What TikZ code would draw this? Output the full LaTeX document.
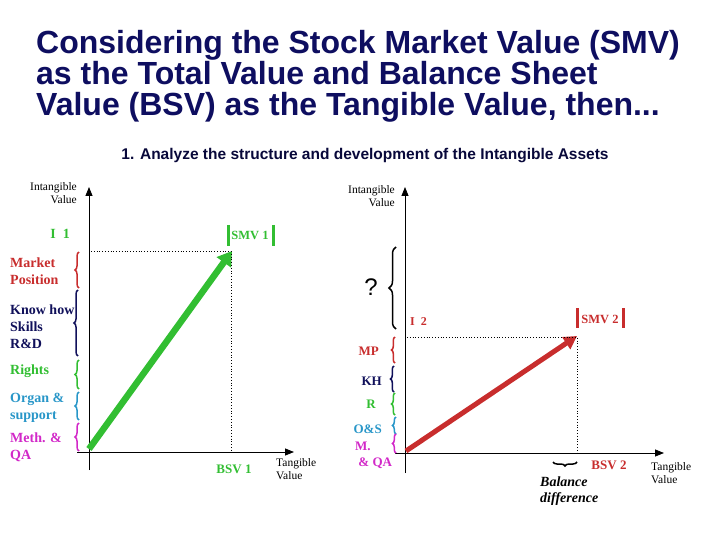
\documentclass[tikz,border=0pt]{standalone}
\usepackage{fontspec}
\setmainfont{Liberation Serif}
\newfontfamily\arial{Liberation Sans}
\usetikzlibrary{arrows.meta,decorations.pathreplacing}
\definecolor{navy}{RGB}{16,16,90}
\definecolor{ttl}{RGB}{14,14,96}
\definecolor{cred}{RGB}{200,45,45}
\definecolor{cgreen}{RGB}{50,190,50}
\definecolor{ccyan}{RGB}{40,150,200}
\definecolor{cmag}{RGB}{210,40,200}
\tikzset{
  axis/.style={line width=0.8pt,-{Triangle[length=9pt,width=7pt]}},
  guide/.style={dotted,line width=0.8pt},
  lbl/.style={inner sep=0pt,font=\fontsize{11.5}{13.5}\selectfont,align=right},
  lbll/.style={inner sep=0pt,font=\fontsize{11.5}{13.5}\selectfont,align=left},
  bl/.style={inner sep=0pt,font=\bfseries\fontsize{14}{17}\selectfont,align=left},
  bs/.style={inner sep=0pt,font=\bfseries\fontsize{13}{16}\selectfont,align=left},
  br/.style={decorate,decoration={brace,amplitude=4pt},line width=1.5pt},
  bar/.style={line width=3pt},
}
\begin{document}
\begin{tikzpicture}[x=1pt,y=-1pt]
\useasboundingbox (0,0) rectangle (720,540);
% title
\node[anchor=west,inner sep=0pt,text=ttl,font=\arial\bfseries\fontsize{32}{31}\selectfont,align=left] (title) at (36,76)
 {Considering the Stock Market Value (SMV)\\as the Total Value and Balance Sheet\\Value (BSV) as the Tangible Value, then...};
\node[inner sep=0pt,text=ttl!60!black,font=\arial\bfseries\fontsize{15.5}{17}\selectfont] (sub) at (365,156) {1. Analyze the structure and development of the Intangible Assets};

% ---------- left chart
\coordinate (L0) at (89,470);
\coordinate (Ltop) at (89,187);
\coordinate (LxS) at (77,452);
\coordinate (LxE) at (294,452);
\draw[axis] (L0) -- (Ltop);
\draw[axis] (LxS) -- (LxE);
\coordinate (Ga) at (89,449);
\coordinate (Gb) at (232,251);
\draw[cgreen,line width=6.5pt,-{Triangle[length=14pt,width=17pt]}] (Ga) -- (Gb);
\coordinate (Lh) at (91,251);
\coordinate (Lv) at (231,452);
\draw[guide] (Lh) -- (231,251) -- (Lv);

\node[lbl,anchor=east] (liv) at (77,193) {Intangible\\Value};
\node[bl,text=cgreen,anchor=east] (i1) at (70,234) {I\ \ 1};
\node[bs,text=cgreen,font=\bfseries\fontsize{12.5}{14}\selectfont] (smv1) at (250,235) {SMV 1};
\draw[bar,cgreen] (228,225) -- (228,246);
\draw[bar,cgreen] (273,225) -- (273,246);
\node[bl,text=cred,anchor=west] (mp) at (10,271) {Market\\Position};
\node[bl,text=navy,anchor=west] (kh) at (10,327) {Know how\\Skills\\R\&D};
\node[bl,text=cgreen,anchor=west] (rt) at (10,371) {Rights};
\node[bl,text=ccyan,anchor=west] (os) at (10,408) {Organ \&\\support};
\node[bl,text=cmag,anchor=west] (mq) at (10,447) {Meth. \&\\QA};
\draw[br,cred] (79,288) -- (79,252);
\draw[br,navy] (78,356) -- (78,290);
\draw[br,cgreen] (79,389) -- (79,360);
\draw[br,ccyan] (79,420) -- (79,392);
\draw[br,cmag] (79,451) -- (79,423);
\node[bs,text=cgreen] (bsv1) at (234,469) {BSV 1};
\node[lbll,anchor=west] (ltv) at (276,469) {Tangible\\Value};

% ---------- right chart
\coordinate (R0) at (405,473);
\coordinate (Rtop) at (405,187);
\coordinate (RxS) at (395,453);
\coordinate (RxE) at (664,453);
\draw[axis] (R0) -- (Rtop);
\draw[axis] (RxS) -- (RxE);
\coordinate (Ra) at (406,451);
\coordinate (Rb) at (577,336);
\draw[cred,line width=5pt,-{Triangle[length=13pt,width=14pt]}] (Ra) -- (Rb);
\coordinate (Rh) at (407,337);
\coordinate (Rv) at (577,453);
\draw[guide] (Rh) -- (577,337) -- (Rv);

\node[lbl,anchor=east] (riv) at (395,196) {Intangible\\Value};
\node[inner sep=0pt,font=\arial\fontsize{24}{26}\selectfont] (q) at (371,287) {?};
\draw[decorate,decoration={brace,amplitude=7pt},line width=1.5pt] (396,329) -- (396,247);
\node[bs,text=cred,font=\bfseries\fontsize{12}{14}\selectfont,anchor=west] (i2) at (410,322) {I\ \ 2};
\node[bs,text=cred,font=\bfseries\fontsize{12.5}{14}\selectfont] (smv2) at (600,319) {SMV 2};
\draw[bar,cred] (577,308) -- (577,328);
\draw[bar,cred] (623,308) -- (623,328);
\node[bs,text=cred,anchor=east] (mp2) at (379,351) {MP};
\node[bs,text=navy,anchor=east] (kh2) at (382,381) {KH};
\node[bs,text=cgreen,anchor=east] (r2) at (376,404) {R};
\node[bs,text=ccyan,anchor=east] (os2) at (382,429) {O\&S};
\node[bs,text=cmag,anchor=west] (mq2) at (355,455) {M.\\\ \& QA};
\draw[br,cred,decoration={amplitude=3.5pt}] (395,363) -- (395,337);
\draw[br,navy,decoration={amplitude=3.5pt}] (394,392) -- (394,366);
\draw[br,cgreen,decoration={amplitude=3.5pt}] (395,415) -- (395,393);
\draw[br,ccyan,decoration={amplitude=3.5pt}] (396,434) -- (396,417);
\draw[br,cmag,decoration={amplitude=3.5pt}] (396,453) -- (396,434);
\draw[decorate,decoration={brace,amplitude=4pt},line width=1.5pt] (577,462) -- (553,462);
\node[bs,text=cred] (bsv2) at (609,465) {BSV 2};
\node[bl,font=\bfseries\itshape\fontsize{14}{16}\selectfont,anchor=west] (bd) at (540,491) {Balance\\difference};
\node[lbll,anchor=west] (rtv) at (651,473) {Tangible\\Value};
\end{tikzpicture}
\end{document}
